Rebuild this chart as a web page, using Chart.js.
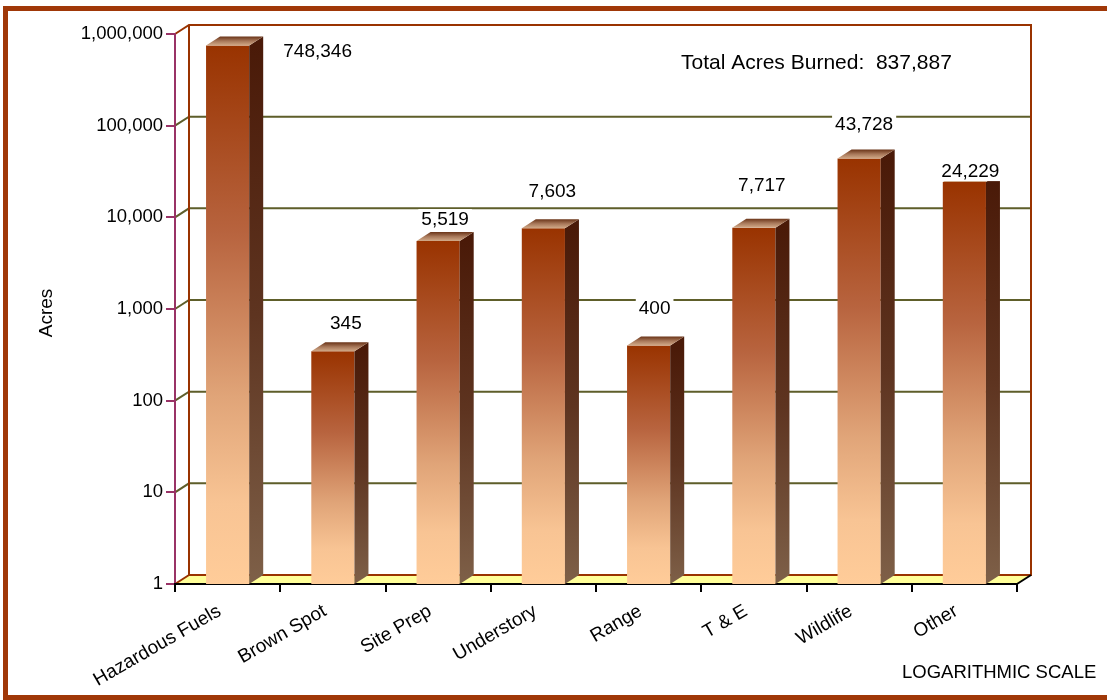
<!DOCTYPE html>
<html>
<head>
<meta charset="utf-8">
<title>Acres Burned</title>
<script src="https://cdn.jsdelivr.net/npm/chart.js@4"></script>
<style>
  body { margin: 0; background: #fff; }
  #wrap { width: 1107px; height: 700px; }
</style>
</head>
<body>
<div id="wrap"><canvas id="acresChart" width="1107" height="700"></canvas></div>
<script>
// chart data
const categories = ['Hazardous Fuels', 'Brown Spot', 'Site Prep', 'Understory', 'Range', 'T & E', 'Wildlife', 'Other'];
const acres = [748346, 345, 5519, 7603, 400, 7717, 43728, 24229];
const yTicks = [1, 10, 100, 1000, 10000, 100000, 1000000];
const totalAcres = 837887;

// label nudges (dx, dy from bar top) - labels don't sit neatly in the original
const labelNudge = [[90, 5], [13, -29], [7, -22], [9, -37], [6, -38], [8, -43], [5, -35], [6, -11]];

const DX = 14, DY = -9;   // depth of the 3D look
const FONT = '"Liberation Sans", Arial, sans-serif';
Chart.defaults.font.family = FONT;
Chart.defaults.color = '#000';

const fmt = v => v.toLocaleString('en-US');

// back wall, floor and gridlines
const wallPlugin = {
    id: 'wall',
    beforeDraw(chart) {
        const { ctx, chartArea: a } = chart;
        const y = chart.scales.y;
        ctx.save();
        ctx.fillStyle = '#fff';
        ctx.fillRect(0, 0, chart.width, chart.height);

        // outer frame
        ctx.strokeStyle = '#a03808';
        ctx.lineWidth = 5;
        ctx.strokeRect(5.5, 8.5, chart.width + 20, 689.5 - 8.5 + 8);

        // floor
        ctx.fillStyle = '#ffff99';
        ctx.beginPath();
        ctx.moveTo(a.left, a.bottom);
        ctx.lineTo(a.right, a.bottom);
        ctx.lineTo(a.right + DX, a.bottom + DY);
        ctx.lineTo(a.left + DX, a.bottom + DY);
        ctx.closePath();
        ctx.fill();

        // gridlines on the back wall
        ctx.lineWidth = 2;
        ctx.strokeStyle = '#5e5e2a';
        yTicks.slice(1, -1).forEach(v => {
            const py = y.getPixelForValue(v);
            ctx.beginPath();
            ctx.moveTo(a.left, py);
            ctx.lineTo(a.left + DX, py + DY);
            ctx.lineTo(a.right + DX, py + DY);
            ctx.stroke();
        });

        // wall frame
        ctx.strokeStyle = '#993300';
        ctx.beginPath();
        ctx.moveTo(a.left, a.top);
        ctx.lineTo(a.left + DX, a.top + DY);
        ctx.lineTo(a.right + DX, a.top + DY);
        ctx.lineTo(a.right + DX, a.bottom + DY);
        ctx.lineTo(a.left + DX, a.bottom + DY);
        ctx.lineTo(a.left + DX, a.top + DY);
        ctx.moveTo(a.left, a.bottom);
        ctx.lineTo(a.left + DX, a.bottom + DY);
        ctx.stroke();

        ctx.strokeStyle = '#000';
        ctx.beginPath();
        ctx.moveTo(a.right, a.bottom);
        ctx.lineTo(a.right + DX, a.bottom + DY);
        ctx.stroke();
        ctx.restore();
    }
};

// side and top faces of the bars, value labels, free texts
const facesPlugin = {
    id: 'faces',
    afterDatasetsDraw(chart) {
        const { ctx } = chart;
        const meta = chart.getDatasetMeta(0);
        ctx.save();
        meta.data.forEach((bar, i) => {
            const l = bar.x - bar.width / 2, r = bar.x + bar.width / 2;
            const t = bar.y, b = bar.base;

            // side
            const sg = ctx.createLinearGradient(0, t, 0, b);
            sg.addColorStop(0, '#4a1a08');
            sg.addColorStop(0.5, '#5e3420');
            sg.addColorStop(1, '#7e6048');
            ctx.fillStyle = sg;
            ctx.beginPath();
            ctx.moveTo(r, t);
            ctx.lineTo(r + DX, t + DY);
            ctx.lineTo(r + DX, b + DY);
            ctx.lineTo(r, b);
            ctx.closePath();
            ctx.fill();

            // top
            const tg = ctx.createLinearGradient(0, t, 0, t + DY);
            tg.addColorStop(0, '#d2aa88');
            tg.addColorStop(0.5, '#a8785a');
            tg.addColorStop(1, '#6a3418');
            ctx.fillStyle = tg;
            ctx.beginPath();
            ctx.moveTo(l, t);
            ctx.lineTo(r, t);
            ctx.lineTo(r + DX, t + DY);
            ctx.lineTo(l + DX, t + DY);
            ctx.closePath();
            ctx.fill();

            // value label with white box
            const txt = fmt(acres[i]);
            const cx = bar.x + labelNudge[i][0], cy = bar.y + labelNudge[i][1];
            ctx.font = '19px ' + FONT;
            const w = ctx.measureText(txt).width;
            ctx.fillStyle = '#fff';
            ctx.fillRect(cx - w / 2 - 3, cy - 10, w + 6, 20);
            ctx.fillStyle = '#000';
            ctx.textAlign = 'center';
            ctx.textBaseline = 'middle';
            ctx.fillText(txt, cx, cy + 1);
        });

        ctx.textAlign = 'left';
        ctx.textBaseline = 'middle';
        ctx.font = '21px ' + FONT;
        ctx.fillText('Total Acres Burned:  ' + fmt(totalAcres), 681, 63);
        ctx.font = '18.5px ' + FONT;
        ctx.fillText('LOGARITHMIC SCALE', 902, 673);

        ctx.translate(47, 313);
        ctx.rotate(-Math.PI / 2);
        ctx.textAlign = 'center';
        ctx.font = '19px ' + FONT;
        ctx.fillText('Acres', 0, 0);
        ctx.restore();
    }
};

const ctx = document.getElementById('acresChart').getContext('2d');

new Chart(ctx, {
    type: 'bar',
    data: {
        labels: categories,
        datasets: [{
            data: acres,
            backgroundColor: function (c) {
                const chart = c.chart;
                if (!chart.chartArea) return '#993300';
                const ys = chart.scales.y;
                const top = ys.getPixelForValue(c.raw);
                const bot = ys.getPixelForValue(1);
                const g = chart.ctx.createLinearGradient(0, top, 0, bot);
                g.addColorStop(0, '#993300');
                g.addColorStop(0.35, '#b8643f');
                g.addColorStop(0.65, '#e0a478');
                g.addColorStop(0.85, '#f8c494');
                g.addColorStop(1, '#ffcc99');
                return g;
            },
            borderWidth: 0,
            barPercentage: 0.41,
            categoryPercentage: 1
        }]
    },
    options: {
        responsive: false,
        animation: false,
        layout: {
            padding: { left: 0, top: 34, right: 90, bottom: 0 }
        },
        plugins: {
            legend: { display: false },
            tooltip: { enabled: false }
        },
        scales: {
            y: {
                type: 'logarithmic',
                min: 1,
                max: 1000000,
                afterFit: function (scale) { scale.width = 175; },
                afterBuildTicks: function (scale) {
                    scale.ticks = yTicks.map(v => ({ value: v }));
                },
                border: { color: '#993366', width: 2 },
                grid: {
                    drawOnChartArea: false,
                    color: '#993366',
                    lineWidth: 2,
                    tickLength: 9
                },
                ticks: {
                    padding: 3,
                    font: { size: 18.5 },
                    callback: function (value) { return fmt(value); }
                }
            },
            x: {
                afterFit: function (scale) { scale.height = 116; },
                border: { color: '#000', width: 2 },
                grid: {
                    drawOnChartArea: false,
                    color: '#000',
                    lineWidth: 2,
                    tickLength: 8
                },
                ticks: {
                    minRotation: 30,
                    maxRotation: 30,
                    padding: 8,
                    labelOffset: -8,
                    font: { size: 19 }
                }
            }
        }
    },
    plugins: [wallPlugin, facesPlugin]
});
</script>
</body>
</html>
